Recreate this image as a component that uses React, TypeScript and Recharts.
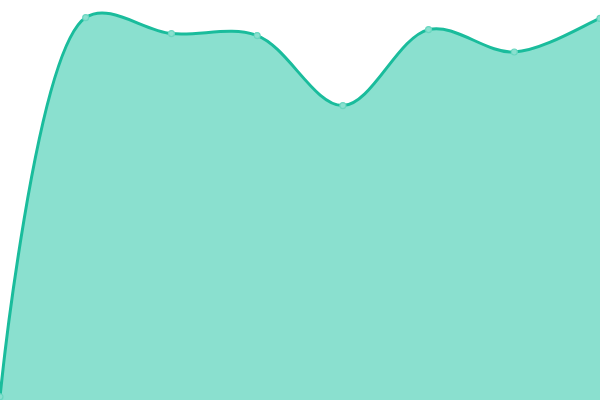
import React from 'react'
import { AreaChart, Area, XAxis, YAxis } from 'recharts'

const categories = ['A', 'B', 'C', 'D', 'E', 'F', 'G', 'H']
const values = [0.8, 95.6, 91.6, 91.1, 73.6, 92.6, 87.0, 95.4]

const data = categories.map((name, i) => ({ name, value: values[i] }))

// centripetal catmull-rom curve (same maths as d3 curveCatmullRom, alpha 0.5)
class CatmullRom {
  _context: any
  _alpha = 0.5
  _line: number = NaN
  _point = 0
  _x0 = NaN; _x1 = NaN; _x2 = NaN
  _y0 = NaN; _y1 = NaN; _y2 = NaN
  _l01_a = 0; _l12_a = 0; _l23_a = 0
  _l01_2a = 0; _l12_2a = 0; _l23_2a = 0

  constructor(context: any) {
    this._context = context
  }
  areaStart() { this._line = 0 }
  areaEnd() { this._line = NaN }
  lineStart() {
    this._x0 = this._x1 = this._x2 = this._y0 = this._y1 = this._y2 = NaN
    this._l01_a = this._l12_a = this._l23_a = this._l01_2a = this._l12_2a = this._l23_2a = 0
    this._point = 0
  }
  lineEnd() {
    switch (this._point) {
      case 2: this._context.lineTo(this._x2, this._y2); break
      case 3: this.bez(this._x2, this._y2); break
    }
    if (this._line || (this._line !== 0 && this._point === 1)) this._context.closePath()
    this._line = 1 - this._line
  }
  bez(x: number, y: number) {
    let x1 = this._x1, y1 = this._y1, x2 = this._x2, y2 = this._y2
    if (this._l01_a > 1e-12) {
      const a = 2 * this._l01_2a + 3 * this._l01_a * this._l12_a + this._l12_2a
      const n = 3 * this._l01_a * (this._l01_a + this._l12_a)
      x1 = (x1 * a - this._x0 * this._l12_2a + this._x2 * this._l01_2a) / n
      y1 = (y1 * a - this._y0 * this._l12_2a + this._y2 * this._l01_2a) / n
    }
    if (this._l23_a > 1e-12) {
      const b = 2 * this._l23_2a + 3 * this._l23_a * this._l12_a + this._l12_2a
      const m = 3 * this._l23_a * (this._l23_a + this._l12_a)
      x2 = (x2 * b + this._x1 * this._l23_2a - x * this._l12_2a) / m
      y2 = (y2 * b + this._y1 * this._l23_2a - y * this._l12_2a) / m
    }
    this._context.bezierCurveTo(x1, y1, x2, y2, this._x2, this._y2)
  }
  point(x: number, y: number) {
    x = +x; y = +y
    if (this._point) {
      const x23 = this._x2 - x, y23 = this._y2 - y
      this._l23_2a = Math.pow(x23 * x23 + y23 * y23, this._alpha)
      this._l23_a = Math.sqrt(this._l23_2a)
    }
    switch (this._point) {
      case 0:
        this._point = 1
        if (this._line) this._context.lineTo(x, y)
        else this._context.moveTo(x, y)
        break
      case 1: this._point = 2; break
      case 2: this._point = 3; this.bez(x, y); break
      default: this.bez(x, y); break
    }
    this._l01_a = this._l12_a; this._l12_a = this._l23_a
    this._l01_2a = this._l12_2a; this._l12_2a = this._l23_2a
    this._x0 = this._x1; this._x1 = this._x2; this._x2 = x
    this._y0 = this._y1; this._y1 = this._y2; this._y2 = y
  }
}

const catmullRom = (context: any) => new CatmullRom(context)

export default function App() {
  return (
    <div style={{ position: 'absolute', top: 0, left: 0, width: 600, height: 400 }}>
      <AreaChart width={600} height={400} data={data} margin={{ top: 0, right: 0, left: 0, bottom: 0 }}>
        <XAxis dataKey="name" hide />
        <YAxis hide domain={[0, 100]} />
        <Area
          type={catmullRom as any}
          dataKey="value"
          stroke="#1abc9c"
          strokeWidth={3}
          fill="#8ae0cf"
          fillOpacity={1}
          dot={{ r: 3, fill: '#8ae0cf', stroke: '#6ad6c0', strokeWidth: 1.2 }}
          activeDot={false}
          isAnimationActive={false}
        />
      </AreaChart>
    </div>
  )
}
